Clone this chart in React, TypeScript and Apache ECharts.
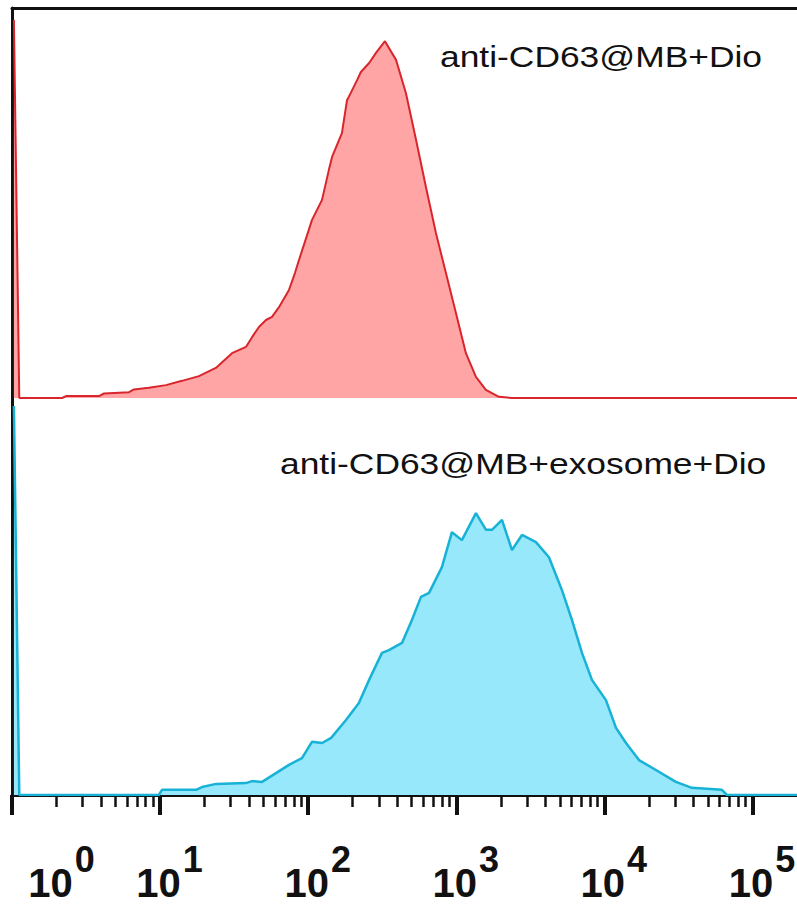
import React, { useEffect, useRef } from "react";
import * as echarts from "echarts";

// Fluorescence intensity (x, log scale) vs relative count (y)
const redIntensity = [1.03, 1.12, 2.18, 2.32, 3.87, 4.18, 6.17, 6.66, 8.41, 10.96, 14.06, 18.3, 23.8, 30.6, 38.0, 41.8, 46.5, 51.9, 57.0, 63.5, 74.2, 81.5, 86.7, 101, 106, 124, 138, 145, 169, 183, 188, 214, 227, 258, 287, 330, 392, 457, 535, 624, 729, 851, 995, 1162, 1358, 1585, 1942, 2376, 200000];
const redCount = [97, 0, 0, 0.5, 0.5, 1.15, 1.5, 2.2, 2.6, 3.3, 4.4, 5.6, 7.7, 11.5, 13.1, 15.6, 18.2, 20.0, 20.8, 23.3, 27.7, 32.1, 35.4, 43.1, 45.6, 50.8, 58.5, 61.8, 67.9, 76.4, 77.2, 81.5, 83.6, 85.9, 88.5, 91.5, 86.7, 78.2, 66.2, 54.1, 42.3, 32.1, 21.8, 11.5, 5.4, 2.1, 0.3, 0, 0];

const cyanIntensity = [1.03, 1.12, 9.8, 10.3, 17.5, 19.2, 23.9, 38.0, 41.8, 48.8, 60.6, 74.2, 90.8, 106, 124, 143, 180, 220, 258, 315, 351, 430, 502, 578, 655, 800, 935, 1092, 1358, 1588, 1742, 2036, 2378, 2780, 3453, 4227, 5173, 6043, 7063, 8246, 10250, 11990, 14000, 17140, 22300, 30400, 39000, 62200, 67300, 200000];
const cyanCount = [98, 0, 0, 1.3, 1.3, 2.0, 2.8, 3.0, 3.5, 3.3, 5.5, 7.6, 9.3, 13.4, 13.1, 14.4, 18.9, 23.2, 29.0, 35.8, 36.5, 38.3, 44.1, 49.9, 50.9, 57.4, 66.2, 64.2, 71.0, 66.8, 66.8, 69.3, 61.7, 65.5, 63.7, 59.9, 51.6, 44.1, 35.8, 29.0, 23.9, 16.9, 13.1, 8.8, 6.3, 3.3, 1.8, 1.3, 0, 0];

const xMin = 1;
const xMax = 200000;
const decadeExponents = [0, 1, 2, 3, 4, 5];
const minorMultipliers = [2, 3, 4, 5, 6, 7, 8, 9];
const labelTop = "anti-CD63@MB+Dio";
const labelBottom = "anti-CD63@MB+exosome+Dio";

const pairs = (xs: number[], ys: number[]) => xs.map((x, i) => [x, ys[i]]);

export default function App() {
  const ref = useRef<HTMLDivElement>(null);
  useEffect(() => {
    if (!ref.current) return;
    const chart = echarts.init(ref.current, null, { renderer: "svg" });
    const expMax = Math.log10(xMax);
    const minorTicks: number[] = [];
    for (let d = 0; d < 5; d++) for (const m of minorMultipliers) minorTicks.push(d + Math.log10(m));
    const black = "#111";
    const font = "Liberation Sans";
    const hiddenAxis = { show: false };
    chart.setOption({
      animation: false,
      backgroundColor: "#fff",
      grid: [
        { left: 12, right: 0, top: 8, height: 390, containLabel: false, outerBoundsMode: "none" },
        { left: 12, right: 0, top: 398, height: 397, containLabel: false, outerBoundsMode: "none" },
      ],
      xAxis: [
        { type: "log", gridIndex: 0, logBase: 10, min: xMin, max: xMax, axisLine: hiddenAxis, axisTick: hiddenAxis, axisLabel: hiddenAxis, splitLine: hiddenAxis },
        { type: "value", gridIndex: 0, position: "top", min: 0, max: 1, axisLine: { show: true, lineStyle: { color: black, width: 3 } }, axisTick: hiddenAxis, axisLabel: hiddenAxis, splitLine: hiddenAxis },
        { type: "log", gridIndex: 1, logBase: 10, min: xMin, max: xMax, axisLine: { show: true, lineStyle: { color: black, width: 3 } }, axisTick: hiddenAxis, axisLabel: hiddenAxis, splitLine: hiddenAxis, minorTick: hiddenAxis },
        {
          type: "value", gridIndex: 1, position: "bottom", min: 0, max: expMax,
          axisLine: hiddenAxis, splitLine: hiddenAxis,
          axisTick: { show: true, customValues: decadeExponents, length: 20, lineStyle: { color: black, width: 4 } },
          axisLabel: {
            show: true,
            customValues: decadeExponents,
            margin: 46,
            fontFamily: font,
            hideOverlap: false,
            formatter: (v: number) => (v === 0 ? `{h| }{b0|10}{s|${v}}` : `{h| }{b|10}{s|${v}}`),
            rich: {
              h: { fontSize: 1, lineHeight: 62, width: 0 },
              b: { fontFamily: font, fontSize: 40, fontWeight: "bold", color: black, lineHeight: 40, verticalAlign: "bottom", padding: [0, 0, 0, 19] },
              b0: { fontFamily: font, fontSize: 40, fontWeight: "bold", color: black, lineHeight: 40, verticalAlign: "bottom", padding: [0, 0, 0, 99] },
              s: { fontFamily: font, fontSize: 36, fontWeight: "bold", color: black, lineHeight: 36, verticalAlign: "top", padding: [0, 0, 0, 2] },
            },
          },
        },
        {
          type: "value", gridIndex: 1, position: "bottom", min: 0, max: expMax,
          axisLine: hiddenAxis, splitLine: hiddenAxis, axisLabel: hiddenAxis,
          axisTick: { show: true, customValues: minorTicks, length: 12, lineStyle: { color: black, width: 2.5 } },
        },
      ],
      yAxis: [
        { type: "value", gridIndex: 0, min: 0, max: 100, axisLine: { show: true, lineStyle: { color: black, width: 3 } }, axisTick: hiddenAxis, axisLabel: hiddenAxis, splitLine: hiddenAxis },
        { type: "value", gridIndex: 1, min: 0, max: 100, axisLine: { show: true, lineStyle: { color: black, width: 3 } }, axisTick: hiddenAxis, axisLabel: hiddenAxis, splitLine: hiddenAxis },
      ],
      series: [
        {
          name: labelTop, type: "line", xAxisIndex: 0, yAxisIndex: 0, data: pairs(redIntensity, redCount),
          showSymbol: false, symbol: "none", lineStyle: { color: "#d8262c", width: 2 }, areaStyle: { color: "#ffa5a5", opacity: 1 }, z: 3,
        },
        {
          name: labelBottom, type: "line", xAxisIndex: 2, yAxisIndex: 1, data: pairs(cyanIntensity, cyanCount),
          showSymbol: false, symbol: "none", lineStyle: { color: "#18b2d6", width: 2.5 }, areaStyle: { color: "#97e8fa", opacity: 1 }, z: 3,
        },
      ],
      graphic: [
        { type: "text", x: 440, y: 56, scaleX: 1.18, style: { text: labelTop, fontFamily: font, fontSize: 30, fill: black, textAlign: "left", textVerticalAlign: "middle" } },
        { type: "text", x: 280, y: 463, scaleX: 1.18, style: { text: labelBottom, fontFamily: font, fontSize: 30, fill: black, textAlign: "left", textVerticalAlign: "middle" } },
      ],
    });
    return () => chart.dispose();
  }, []);
  return <div ref={ref} style={{ position: "absolute", left: 0, top: 0, width: 797, height: 909 }} />;
}
